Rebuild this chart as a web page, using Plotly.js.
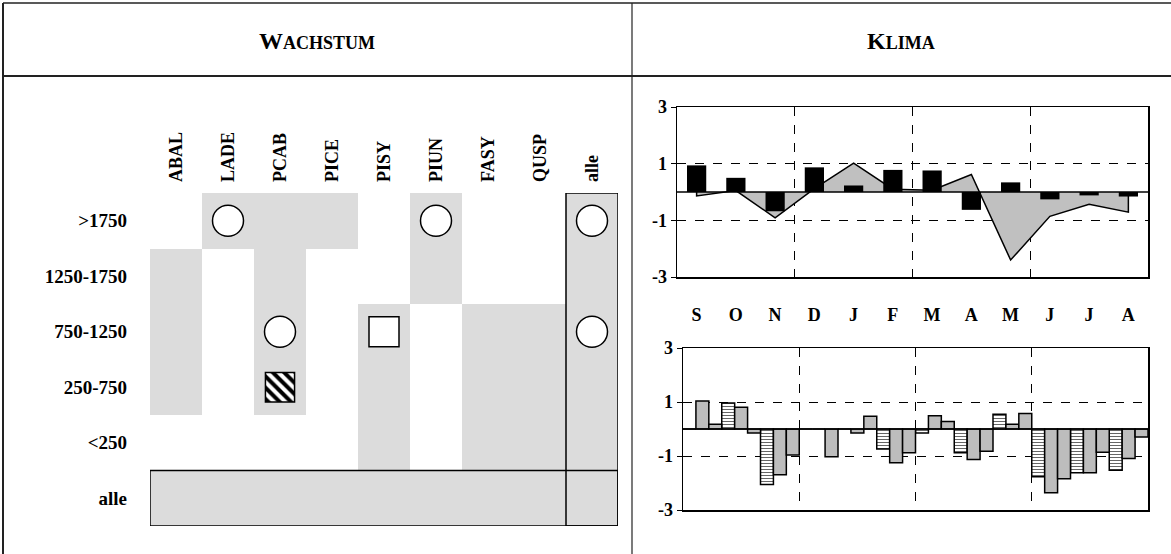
<!DOCTYPE html>
<html><head><meta charset="utf-8">
<script src="https://cdn.plot.ly/plotly-3.0.1.min.js"></script>
<style>html,body{margin:0;padding:0;background:#fff;} #chart{width:1171px;height:554px;}</style>
</head><body><div id="chart"></div>
<script>
// ---------- data ----------
const species   = ['ABAL','LADE','PCAB','PICE','PISY','PIUN','FASY','QUSP','alle'];
const altitudes = ['>1750','1250-1750','750-1250','250-750','<250','alle'];
// shaded cells (1 = grey) rows = altitudes, cols = species
const grayCells = [
  [0,1,1,1,0,1,0,0,1],
  [1,0,1,0,0,1,0,0,1],
  [1,0,1,0,1,0,1,1,1],
  [1,0,1,0,1,0,1,1,1],
  [0,0,0,0,1,0,1,1,1],
  [1,1,1,1,1,1,1,1,1]
];
const circleCells = [['LADE','>1750'],['PIUN','>1750'],['alle','>1750'],['PCAB','750-1250'],['alle','750-1250']];
const squareCells = [['PISY','750-1250']];
const hatchCells  = [['PCAB','250-750']];

const months = ['S','O','N','D','J','F','M','A','M','J','J','A'];
const topBars = [0.94, 0.50, -0.68, 0.87, 0.23, 0.78, 0.76, -0.63, 0.34, -0.26, -0.12, -0.16];
const topArea = [-0.14, 0.05, -0.91, 0.12, 1.02, 0.10, 0.06, 0.62, -2.40, -0.86, -0.43, -0.71];
const lowStriped = [0, 0.96, -2.06, 0, 0, -0.74, -0.15, -0.88, 0.55, -1.77, -1.62, -1.53];
const lowGrayA   = [1.04, 0.81, -1.69, 0, -0.15, -1.25, 0.49, -1.13, 0.18, -2.36, -1.62, -1.09];
const lowGrayB   = [0.18, -0.15, -0.96, -1.03, 0.47, -0.88, 0.28, -0.82, 0.57, -1.84, -0.86, -0.30];
const yTicks = [-3, -1, 1, 3];
const yTickText = ['-3', '-1', '1', '3'];
const quarterEdges = [2.5, 5.5, 8.5];

// ---------- helpers ----------
const W = 1171, H = 554;
const px = v => v / W, py = v => 1 - v / H;
const SERIF = 'Liberation Serif, Times New Roman, serif';
const esc = s => s.replace(/</g, '&lt;').replace(/>/g, '&gt;');
const mIdx = months.map((m, i) => i);
const sIdx = species.map((s, i) => i);
const aIdx = altitudes.map((a, i) => i);
const cellX = c => species.indexOf(c[0]);
const cellY = c => altitudes.indexOf(c[1]);
const hatchW = 0.56, hatchH = 0.53;

const tfont = (size) => ({family: SERIF, size: size, color: '#000', weight: 'bold'});

const traces = [
  {type: 'heatmap', x: sIdx, y: aIdx, z: grayCells, xaxis: 'x', yaxis: 'y',
   colorscale: [[0, 'rgba(255,255,255,0)'], [1, '#dcdcdc']], zmin: 0, zmax: 1,
   showscale: false, hoverinfo: 'skip'},
  {type: 'bar', x: hatchCells.map(cellX), y: hatchCells.map(() => hatchH),
   base: hatchCells.map(c => cellY(c) - hatchH / 2), width: hatchW, xaxis: 'x', yaxis: 'y',
   marker: {color: '#fff', pattern: {shape: '\\', fgcolor: '#000', bgcolor: '#fff', size: 8, solidity: 0.5},
            line: {color: '#000', width: 1.5}}, hoverinfo: 'skip'},
  {type: 'scatter', mode: 'markers', x: circleCells.map(cellX), y: circleCells.map(cellY), xaxis: 'x', yaxis: 'y',
   marker: {symbol: 'circle', size: 31, color: '#fff', line: {color: '#000', width: 1.5}}, hoverinfo: 'skip'},
  {type: 'scatter', mode: 'markers', x: squareCells.map(cellX), y: squareCells.map(cellY), xaxis: 'x', yaxis: 'y',
   marker: {symbol: 'square', size: 30, color: '#fff', line: {color: '#000', width: 1.5}}, hoverinfo: 'skip'},
  // top climate chart
  {type: 'scatter', mode: 'lines', x: [mIdx[0]].concat(mIdx, [mIdx[mIdx.length - 1]]),
   y: [0].concat(topArea, [0]), fill: 'toself', fillcolor: '#c0c0c0',
   line: {color: '#000', width: 1.5}, xaxis: 'x2', yaxis: 'y2', hoverinfo: 'skip'},
  {type: 'bar', x: mIdx, y: topBars, width: 0.49, xaxis: 'x2', yaxis: 'y3',
   marker: {color: '#000', line: {width: 0}}, hoverinfo: 'skip'},
  // bottom climate chart
  {type: 'bar', x: mIdx, y: lowStriped, width: 1 / 3, offset: -0.5, xaxis: 'x4', yaxis: 'y4',
   marker: {color: '#fff', pattern: {shape: '-', fgcolor: '#666', bgcolor: '#fff', size: 3, solidity: 0.35},
            line: {color: '#000', width: 1.5}}, hoverinfo: 'skip'},
  {type: 'bar', x: mIdx, y: lowGrayA, width: 1 / 3, offset: -0.5 + 1 / 3, xaxis: 'x4', yaxis: 'y4',
   marker: {color: '#bdbdbd', line: {color: '#000', width: 1.5}}, hoverinfo: 'skip'},
  {type: 'bar', x: mIdx, y: lowGrayB, width: 1 / 3, offset: -0.5 + 2 / 3, xaxis: 'x4', yaxis: 'y4',
   marker: {color: '#bdbdbd', line: {color: '#000', width: 1.5}}, hoverinfo: 'skip'}
];

const climY = (domain, anchor) => ({
  domain: domain, anchor: anchor, range: [-3, 3], tickmode: 'array', tickvals: yTicks, ticktext: yTickText,
  ticks: 'outside', ticklen: 5, tickcolor: '#000', tickwidth: 1,
  showgrid: true, gridcolor: '#000', gridwidth: 1, griddash: 'dash', zeroline: false,
  showline: true, mirror: true, linecolor: '#000', linewidth: 1.5,
  tickfont: tfont(18), fixedrange: true
});
const climX = (domain, anchor, labels) => ({
  domain: domain, anchor: anchor, range: [-0.5, 11.5], tickmode: 'array', tickvals: mIdx,
  ticktext: months, showticklabels: labels, ticks: '', ticklabelstandoff: 21,
  showgrid: false, zeroline: false, showline: true, mirror: true, linecolor: '#000', linewidth: 1.5,
  tickfont: tfont(18), fixedrange: true,
  minor: {tickmode: 'array', tickvals: quarterEdges, showgrid: true, gridcolor: '#000', gridwidth: 1, griddash: 'dash', ticks: ''}
});

const lineShape = (x0, y0, x1, y1, w) => ({type: 'line', xref: 'paper', yref: 'paper',
  x0: px(x0), y0: py(y0), x1: px(x1), y1: py(y1), line: {color: '#222', width: w}});
const alleC = species.indexOf('alle'), alleR = altitudes.indexOf('alle');

const layout = {
  width: W, height: H, margin: {l: 0, r: 0, t: 0, b: 0}, paper_bgcolor: '#fff', plot_bgcolor: 'rgba(0,0,0,0)',
  showlegend: false, barmode: 'overlay', font: {family: SERIF, color: '#000'},
  xaxis: {domain: [px(150), px(618)], anchor: 'y', range: [-0.5, 8.5], side: 'top', tickmode: 'array',
    tickvals: sIdx, ticktext: species, tickangle: -90, ticks: '', ticklabelstandoff: 10,
    showgrid: false, zeroline: false, showline: false, tickfont: tfont(18), fixedrange: true},
  yaxis: {domain: [py(526), py(193)], anchor: 'x', range: [5.5, -0.5], tickmode: 'array',
    tickvals: aIdx, ticktext: altitudes.map(esc), ticks: '', ticklabelstandoff: 22,
    showgrid: false, zeroline: false, showline: false, tickfont: tfont(19), fixedrange: true},
  xaxis2: climX([px(677), px(1148)], 'y2', true),
  yaxis2: climY([py(277), py(107)], 'x2'),
  yaxis3: {overlaying: 'y2', anchor: 'x2', range: [-3, 3], visible: false, fixedrange: true},
  xaxis4: climX([px(683), px(1148)], 'y4', false),
  yaxis4: climY([py(510), py(348)], 'x4'),
  shapes: [
    {type: 'line', xref: 'x2 domain', yref: 'y2', x0: 0, x1: 1, y0: 0, y1: 0, line: {color: '#000', width: 1.5}, layer: 'above'},
    {type: 'line', xref: 'x4 domain', yref: 'y4', x0: 0, x1: 1, y0: 0, y1: 0, line: {color: '#000', width: 1.5}, layer: 'above'},
    {type: 'rect', xref: 'x', yref: 'y', x0: alleC - 0.5, x1: alleC + 0.5, y0: -0.5, y1: altitudes.length - 0.5,
     line: {color: '#000', width: 1.5}, fillcolor: 'rgba(0,0,0,0)', layer: 'above'},
    {type: 'rect', xref: 'x', yref: 'y', x0: -0.5, x1: species.length - 0.5, y0: alleR - 0.5, y1: alleR + 0.5,
     line: {color: '#000', width: 1.5}, fillcolor: 'rgba(0,0,0,0)', layer: 'above'},
    lineShape(3, 3, 1171, 3, 1.5),
    lineShape(3, 3, 3, 554, 2),
    lineShape(3, 76, 1171, 76, 2),
    lineShape(632, 3, 632, 554, 1.2)
  ],
  annotations: [
    {xref: 'paper', yref: 'paper', x: px(317), y: py(41), xanchor: 'center', yanchor: 'middle', showarrow: false,
     text: '<b>W<span style="font-size:18px">ACHSTUM</span></b>', font: {family: SERIF, size: 24, color: '#000'}},
    {xref: 'paper', yref: 'paper', x: px(901), y: py(41), xanchor: 'center', yanchor: 'middle', showarrow: false,
     text: '<b>K<span style="font-size:18px">LIMA</span></b>', font: {family: SERIF, size: 24, color: '#000'}}
  ]
};

Plotly.newPlot('chart', traces, layout, {staticPlot: true, displayModeBar: false});
</script>
</body></html>
